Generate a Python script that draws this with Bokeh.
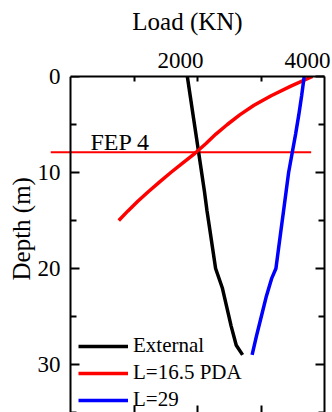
import numpy as np
from bokeh.plotting import figure
from bokeh.models import (Range1d, LinearAxis, FixedTicker, Legend, Span, Title,
                          LegendItem, ColumnDataSource)
from bokeh.core.properties import value
from bokeh.embed import file_html
from bokeh.resources import INLINE

# ---------------- data ----------------
ext_depth = [0, 2, 4, 6, 8, 10, 12, 14, 16, 18, 20, 22, 24, 26, 28, 29]
ext_load = [1840, 1885, 1930, 1975, 2020, 2065, 2110, 2150, 2195, 2240,
            2285, 2390, 2460, 2530, 2610, 2710]

pda_depth = [0, 1, 2, 3, 4, 5, 6, 7, 8, 9, 10, 11, 12, 13, 14, 15]
pda_load = [3810, 3470, 3160, 2890, 2665, 2470, 2290, 2130, 1960, 1770,
            1580, 1400, 1225, 1060, 905, 760]

l29_depth = [0, 2, 4, 6, 8, 10, 12, 14, 16, 18, 20, 21, 23, 25, 27, 29]
l29_load = [3680, 3640, 3595, 3545, 3490, 3435, 3395, 3355, 3315, 3275,
            3235, 3170, 3080, 3005, 2930, 2860]

fep_depth = [7.9, 7.9]
fep_load = [-315, 3790]
fep_text = ["FEP 4"]
fep_text_x = [315]
fep_text_y = [6.8]

x_ticks_labeled = [2000, 4000]
x_ticks_minor = [1000, 2000, 3000]
y_ticks = [0, 10, 20, 30]
y_ticks_minor = [5, 15, 25, 35]

series_labels = ["External", "L=16.5 PDA", "L=29"]
series_colors = ["black", "red", "blue"]

FONT = "Liberation Serif"

# ---------------- figure ----------------
p = figure(width=332, height=412,
           x_range=Range1d(-315, 4000), y_range=Range1d(35, 0),
           x_axis_location=None, y_axis_location=None,
           toolbar_location=None, output_backend="svg",
           min_border_left=50, min_border_right=8,
           min_border_top=76, min_border_bottom=0,
           outline_line_color=None, background_fill_color="white",
           border_fill_color="white")
p.grid.visible = False

p.extra_x_ranges = {"lbl": Range1d(-315 + 268, 4000 + 268)}

# top axis: ticks only
top_ticks = LinearAxis(ticker=FixedTicker(ticks=[], minor_ticks=x_ticks_minor),
                       bounds=(0, 4000), axis_line_width=2,
                       minor_tick_in=5, minor_tick_out=0, minor_tick_line_width=2,
                       major_tick_in=0, major_tick_out=0, major_label_standoff=0)
p.add_layout(top_ticks, "above")

# top axis: labels + title
top_labels = LinearAxis(x_range_name="lbl",
                        ticker=FixedTicker(ticks=x_ticks_labeled, minor_ticks=[]),
                        bounds=(380, 4001),
                        axis_line_color=None, major_tick_line_color=None,
                        minor_tick_line_color=None, major_tick_in=0, major_tick_out=0,
                        major_label_standoff=9, major_label_text_font=FONT,
                        major_label_text_font_size="23px", major_label_text_color="black",
                        axis_label="Load (KN)", axis_label_text_font=FONT,
                        axis_label_text_font_size="25px",
                        axis_label_text_font_style="normal",
                        axis_label_text_color="black",
                        axis_label_standoff=15)
p.add_layout(top_labels, "above")

# left axis: labels only (spine and ticks drawn at load = 0 below)
left = LinearAxis(ticker=FixedTicker(ticks=y_ticks, minor_ticks=[]),
                  axis_line_color=None,
                  major_tick_line_color=None, minor_tick_line_color=None,
                  major_tick_in=0, major_tick_out=0,
                  major_label_standoff=-10, major_label_text_font=FONT,
                  major_label_text_font_size="23px", major_label_text_color="black")
p.add_layout(left, "left")

# y-axis title
p.add_layout(Title(text="Depth (m)", align="left", offset=132, standoff=0,
                   text_font=FONT, text_font_size="25px", text_font_style="normal",
                   text_color="black"), "left")

# right axes (ticks only)
right_major = LinearAxis(ticker=FixedTicker(ticks=[], minor_ticks=y_ticks),
                         axis_line_width=2, minor_tick_in=9, minor_tick_out=0,
                         minor_tick_line_width=2, major_tick_in=0, major_tick_out=0,
                         major_label_standoff=0)
p.add_layout(right_major, "right")
right_minor = LinearAxis(ticker=FixedTicker(ticks=[], minor_ticks=y_ticks_minor),
                         axis_line_color=None, minor_tick_in=6, minor_tick_out=0,
                         minor_tick_line_width=2, major_tick_in=0, major_tick_out=0,
                         major_label_standoff=0)
p.add_layout(right_minor, "right")

# bottom axis (ticks only)
bottom = LinearAxis(ticker=FixedTicker(ticks=[], minor_ticks=x_ticks_minor),
                    bounds=(0, 4000), axis_line_color=None,
                    minor_tick_in=7, minor_tick_out=0, minor_tick_line_width=2,
                    major_tick_in=0, major_tick_out=0, major_label_standoff=0)
p.add_layout(bottom, "below")

# left spine at load = 0 and its ticks
p.add_layout(Span(location=0, dimension="height", line_color="black", line_width=2))
p.ray(x=[0] * len(y_ticks), y=y_ticks, length=9, length_units="screen", angle=0,
      line_color="black", line_width=2)
p.ray(x=[0] * len(y_ticks_minor), y=y_ticks_minor, length=6, length_units="screen",
      angle=0, line_color="black", line_width=2)

# ---------------- glyphs ----------------
p.line(fep_load, fep_depth, line_color="red", line_width=2)

r_ext = p.line(ext_load, ext_depth, line_color=series_colors[0], line_width=3.5)
r_pda = p.line(pda_load, pda_depth, line_color=series_colors[1], line_width=3.5)
r_l29 = p.line(l29_load, l29_depth, line_color=series_colors[2], line_width=3.5)

src_txt = ColumnDataSource(dict(x=fep_text_x, y=fep_text_y, t=fep_text))
p.text(x="x", y="y", text="t", source=src_txt, text_font=value(FONT),
       text_font_size="24px", text_color="black", text_align="left",
       text_baseline="alphabetic")

legend = Legend(items=[LegendItem(label=series_labels[0], renderers=[r_ext]),
                       LegendItem(label=series_labels[1], renderers=[r_pda]),
                       LegendItem(label=series_labels[2], renderers=[r_l29])],
                location=(28, 0), padding=0, margin=0, spacing=2,
                glyph_width=50, glyph_height=20, label_height=20, label_standoff=5,
                border_line_color=None, background_fill_alpha=0,
                label_text_font=FONT, label_text_font_size="21px",
                label_text_color="black")
p.add_layout(legend)

open("out.html", "w").write(file_html(p, INLINE))
